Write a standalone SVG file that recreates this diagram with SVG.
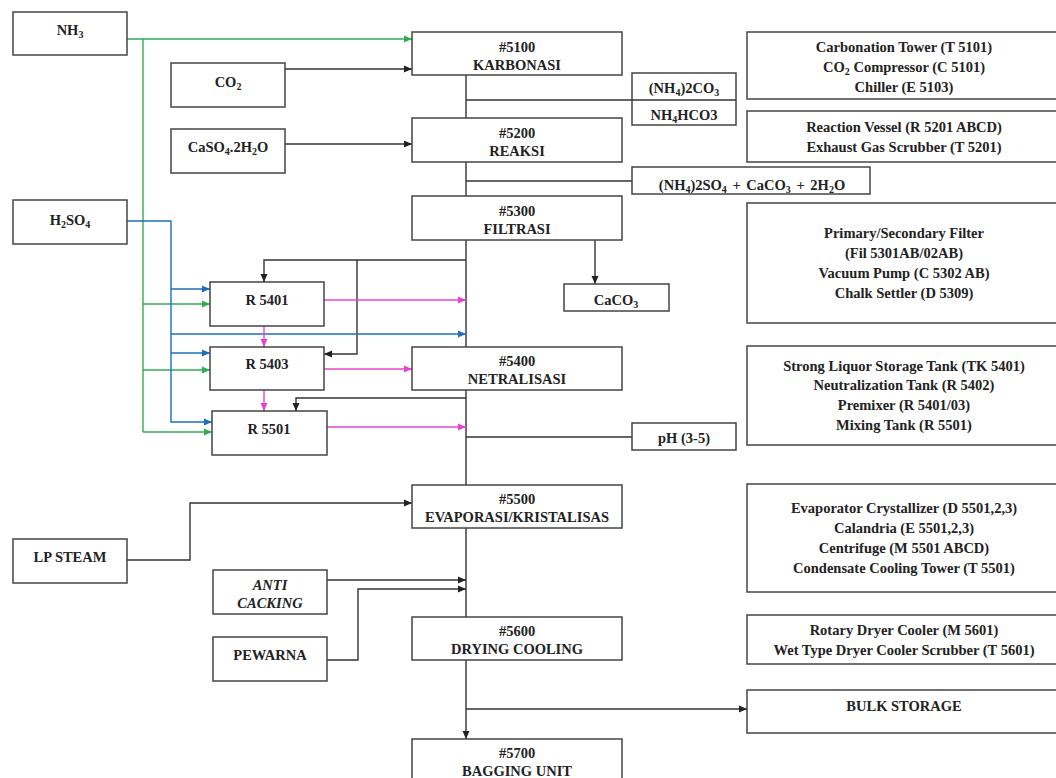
<svg xmlns="http://www.w3.org/2000/svg" width="1056" height="778" viewBox="0 0 1056 778">
<style>
.box{fill:#fff;stroke:#444;stroke-width:1.5}
.t{font-family:"Liberation Serif",serif;font-weight:bold;font-size:14.5px;fill:#222;text-anchor:middle}
.i{font-style:italic}
.s{font-size:10px}
.k{fill:none;stroke:#333;stroke-width:1.4}
.g{fill:none;stroke:#2ead52;stroke-width:1.4}
.b{fill:none;stroke:#1f6fba;stroke-width:1.4}
.p{fill:none;stroke:#e544d0;stroke-width:1.4}
</style>
<defs>
<marker id="ak" markerWidth="8" markerHeight="8" refX="8" refY="4" orient="auto" markerUnits="userSpaceOnUse"><path d="M0,0.5 L8,4 L0,7.5z" fill="#222"/></marker>
<marker id="ag" markerWidth="8" markerHeight="8" refX="8" refY="4" orient="auto" markerUnits="userSpaceOnUse"><path d="M0,0.5 L8,4 L0,7.5z" fill="#2ead52"/></marker>
<marker id="ab" markerWidth="8" markerHeight="8" refX="8" refY="4" orient="auto" markerUnits="userSpaceOnUse"><path d="M0,0.5 L8,4 L0,7.5z" fill="#1f6fba"/></marker>
<marker id="ap" markerWidth="8" markerHeight="8" refX="8" refY="4" orient="auto" markerUnits="userSpaceOnUse"><path d="M0,0.5 L8,4 L0,7.5z" fill="#e544d0"/></marker>
</defs>
<rect width="1056" height="778" fill="#fff"/>

<g id="connectors">
<path class="k" d="M466,75 V739" marker-end="url(#ak)"/>
<path class="k" d="M466,100 H736"/>
<path class="k" d="M466,181 H632"/>
<path class="k" d="M466,437 H632"/>
<path class="k" d="M285,69 H412" marker-end="url(#ak)"/>
<path class="k" d="M285,144 H412" marker-end="url(#ak)"/>
<path class="k" d="M595,240 V284" marker-end="url(#ak)"/>
<path class="k" d="M466,260 H264 V282" marker-end="url(#ak)"/>
<path class="k" d="M357,260 V354 H324" marker-end="url(#ak)"/>
<path class="k" d="M466,398 H296 V411" marker-end="url(#ak)"/>
<path class="k" d="M127,560 H190 V503 H412" marker-end="url(#ak)"/>
<path class="k" d="M327,580 H466" marker-end="url(#ak)"/>
<path class="k" d="M327,660 H358 V589 H466" marker-end="url(#ak)"/>
<path class="k" d="M466,709 H747" marker-end="url(#ak)"/>
<path class="g" d="M127,39 H412" marker-end="url(#ag)"/>
<path class="g" d="M143,39 V432"/>
<path class="g" d="M143,304 H210" marker-end="url(#ag)"/>
<path class="g" d="M143,370 H210" marker-end="url(#ag)"/>
<path class="g" d="M143,432 H212" marker-end="url(#ag)"/>
<path class="b" d="M127,221 H171 V422 H212" marker-end="url(#ab)"/>
<path class="b" d="M171,289 H210" marker-end="url(#ab)"/>
<path class="b" d="M171,334 H466" marker-end="url(#ab)"/>
<path class="b" d="M171,353 H210" marker-end="url(#ab)"/>
<path class="p" d="M324,300 H466" marker-end="url(#ap)"/>
<path class="p" d="M324,369 H412" marker-end="url(#ap)"/>
<path class="p" d="M327,427 H466" marker-end="url(#ap)"/>
<path class="p" d="M264,326 V347" marker-end="url(#ap)"/>
<path class="p" d="M264,390 V411" marker-end="url(#ap)"/>
</g>

<g id="nh3"><rect class="box" x="13" y="12" width="114" height="43"/><text class="t" x="70" y="35">NH<tspan class="s" dy="3">3</tspan></text></g>
<g id="co2"><rect class="box" x="171" y="63" width="114" height="44"/><text class="t" x="228" y="87">CO<tspan class="s" dy="3">2</tspan></text></g>
<g id="caso4"><rect class="box" x="171" y="129" width="114" height="44"/><text class="t" x="228" y="152">CaSO<tspan class="s" dy="3">4</tspan><tspan dy="-3">.2H</tspan><tspan class="s" dy="3">2</tspan><tspan dy="-3">O</tspan></text></g>
<g id="h2so4"><rect class="box" x="13" y="200" width="114" height="44"/><text class="t" x="70" y="225">H<tspan class="s" dy="3">2</tspan><tspan dy="-3">SO</tspan><tspan class="s" dy="3">4</tspan></text></g>

<g id="u5100"><rect class="box" x="412" y="32" width="210" height="43"/><text class="t" x="517" y="52">#5100</text><text class="t" x="517" y="70">KARBONASI</text></g>
<g id="carbonate"><rect class="box" x="632" y="73" width="104" height="52"/><line x1="632" y1="100" x2="736" y2="100" stroke="#333" stroke-width="1.4"/><text class="t" x="684" y="93">(NH<tspan class="s" dy="3">4</tspan><tspan dy="-3">)2CO</tspan><tspan class="s" dy="3">3</tspan></text><text class="t" x="684" y="120">NH<tspan class="s" dy="3">4</tspan><tspan dy="-3">HCO3</tspan></text></g>
<g id="u5200"><rect class="box" x="412" y="118" width="210" height="44"/><text class="t" x="517" y="138">#5200</text><text class="t" x="517" y="156">REAKSI</text></g>
<g id="sulfate"><rect class="box" x="632" y="167" width="238" height="27"/><text class="t" x="752" y="190" word-spacing="2">(NH<tspan class="s" dy="3">4</tspan><tspan dy="-3">)2SO</tspan><tspan class="s" dy="3">4</tspan><tspan dy="-3"> + CaCO</tspan><tspan class="s" dy="3">3</tspan><tspan dy="-3"> + 2H</tspan><tspan class="s" dy="3">2</tspan><tspan dy="-3">O</tspan></text></g>
<g id="u5300"><rect class="box" x="412" y="196" width="210" height="44"/><text class="t" x="517" y="216">#5300</text><text class="t" x="517" y="234">FILTRASI</text></g>
<g id="caco3"><rect class="box" x="564" y="284" width="105" height="27"/><text class="t" x="616" y="305">CaCO<tspan class="s" dy="3">3</tspan></text></g>

<g id="r5401"><rect class="box" x="210" y="282" width="114" height="44"/><text class="t" x="267" y="305">R 5401</text></g>
<g id="r5403"><rect class="box" x="210" y="347" width="114" height="43"/><text class="t" x="267" y="369">R 5403</text></g>
<g id="r5501"><rect class="box" x="212" y="411" width="115" height="44"/><text class="t" x="269" y="434">R 5501</text></g>

<g id="u5400"><rect class="box" x="412" y="347" width="210" height="43"/><text class="t" x="517" y="366">#5400</text><text class="t" x="517" y="384">NETRALISASI</text></g>
<g id="ph"><rect class="box" x="632" y="423" width="104" height="27"/><text class="t" x="684" y="443">pH (3-5)</text></g>
<g id="u5500"><rect class="box" x="412" y="485" width="210" height="43"/><text class="t" x="517" y="504">#5500</text><text class="t" x="517" y="522">EVAPORASI/KRISTALISAS</text></g>
<g id="lpsteam"><rect class="box" x="13" y="539" width="114" height="44"/><text class="t" x="70" y="562">LP STEAM</text></g>
<g id="anti"><rect class="box" x="213" y="570" width="114" height="44"/><text class="t i" x="270" y="590">ANTI</text><text class="t i" x="270" y="608">CACKING</text></g>
<g id="pewarna"><rect class="box" x="213" y="637" width="114" height="44"/><text class="t" x="270" y="660">PEWARNA</text></g>
<g id="u5600"><rect class="box" x="412" y="617" width="210" height="43"/><text class="t" x="517" y="636">#5600</text><text class="t" x="517" y="654">DRYING COOLING</text></g>
<g id="u5700"><rect class="box" x="412" y="739" width="210" height="60"/><text class="t" x="517" y="758">#5700</text><text class="t" x="517" y="776">BAGGING UNIT</text></g>

<g id="eq5100"><rect class="box" x="747" y="32" width="320" height="67"/><text class="t" x="904" y="52">Carbonation Tower (T 5101)</text><text class="t" x="904" y="72">CO<tspan class="s" dy="3">2</tspan><tspan dy="-3"> Compressor (C 5101)</tspan></text><text class="t" x="904" y="92">Chiller (E 5103)</text></g>
<g id="eq5200"><rect class="box" x="747" y="111" width="320" height="51"/><text class="t" x="904" y="132">Reaction Vessel (R 5201 ABCD)</text><text class="t" x="904" y="152">Exhaust Gas Scrubber (T 5201)</text></g>
<g id="eq5300"><rect class="box" x="747" y="203" width="320" height="120"/><text class="t" x="904" y="238">Primary/Secondary Filter</text><text class="t" x="904" y="258">(Fil 5301AB/02AB)</text><text class="t" x="904" y="278">Vacuum Pump (C 5302 AB)</text><text class="t" x="904" y="298">Chalk Settler (D 5309)</text></g>
<g id="eq5400"><rect class="box" x="747" y="346" width="320" height="99"/><text class="t" x="904" y="371">Strong Liquor Storage Tank (TK 5401)</text><text class="t" x="904" y="390">Neutralization Tank (R 5402)</text><text class="t" x="904" y="410">Premixer (R 5401/03)</text><text class="t" x="904" y="430">Mixing Tank (R 5501)</text></g>
<g id="eq5500"><rect class="box" x="747" y="484" width="320" height="108"/><text class="t" x="904" y="513">Evaporator Crystallizer (D 5501,2,3)</text><text class="t" x="904" y="533">Calandria (E 5501,2,3)</text><text class="t" x="904" y="553">Centrifuge (M 5501 ABCD)</text><text class="t" x="904" y="573">Condensate Cooling Tower (T 5501)</text></g>
<g id="eq5600"><rect class="box" x="747" y="615" width="320" height="49"/><text class="t" x="904" y="635">Rotary Dryer Cooler (M 5601)</text><text class="t" x="904" y="655">Wet Type Dryer Cooler Scrubber (T 5601)</text></g>
<g id="bulk"><rect class="box" x="747" y="690" width="320" height="43"/><text class="t" x="904" y="711">BULK STORAGE</text></g>
</svg>
